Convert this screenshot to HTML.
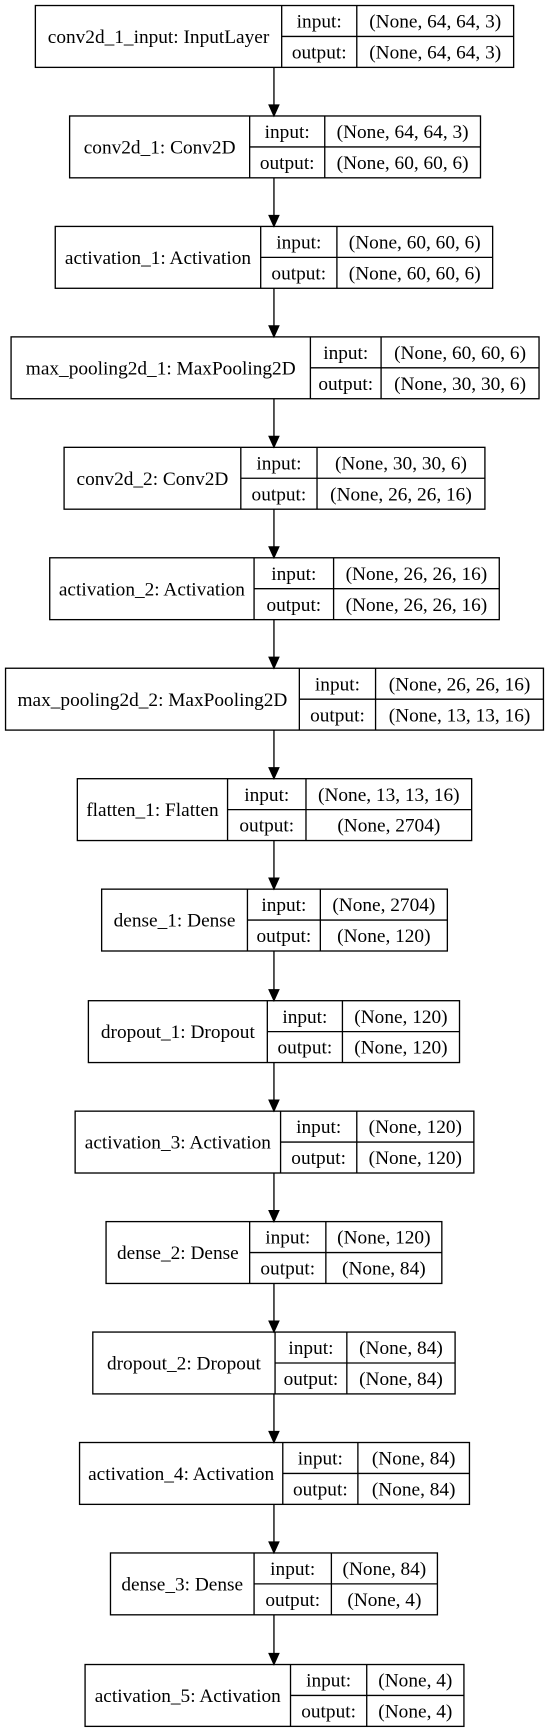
<!DOCTYPE html>
<html><head><meta charset="utf-8"><style>
html,body{margin:0;padding:0;background:#fff;}
svg{display:block;}
text{font-family:"Liberation Serif",serif;font-size:17.5px;fill:#000;text-anchor:middle;}
rect,line{stroke:#000;stroke-width:1.2;fill:none;}
</style></head><body>
<svg width="549" height="1733" viewBox="0 0 497 1569">
<g id="arrows" stroke="#000">
<line x1="248" y1="61" x2="248" y2="95"/><polygon points="243.5,95 252.5,95 248,105"/>
<line x1="248" y1="161" x2="248" y2="195"/><polygon points="243.5,195 252.5,195 248,205"/>
<line x1="248" y1="261" x2="248" y2="295"/><polygon points="243.5,295 252.5,295 248,305"/>
<line x1="248" y1="361" x2="248" y2="395"/><polygon points="243.5,395 252.5,395 248,405"/>
<line x1="248" y1="461" x2="248" y2="495"/><polygon points="243.5,495 252.5,495 248,505"/>
<line x1="248" y1="561" x2="248" y2="595"/><polygon points="243.5,595 252.5,595 248,605"/>
<line x1="248" y1="661" x2="248" y2="695"/><polygon points="243.5,695 252.5,695 248,705"/>
<line x1="248" y1="761" x2="248" y2="795"/><polygon points="243.5,795 252.5,795 248,805"/>
<line x1="248" y1="861" x2="248" y2="896"/><polygon points="243.5,896 252.5,896 248,906"/>
<line x1="248" y1="962" x2="248" y2="996"/><polygon points="243.5,996 252.5,996 248,1006"/>
<line x1="248" y1="1062" x2="248" y2="1096"/><polygon points="243.5,1096 252.5,1096 248,1106"/>
<line x1="248" y1="1162" x2="248" y2="1196"/><polygon points="243.5,1196 252.5,1196 248,1206"/>
<line x1="248" y1="1262" x2="248" y2="1296"/><polygon points="243.5,1296 252.5,1296 248,1306"/>
<line x1="248" y1="1362" x2="248" y2="1396"/><polygon points="243.5,1396 252.5,1396 248,1406"/>
<line x1="248" y1="1462" x2="248" y2="1497"/><polygon points="243.5,1497 252.5,1497 248,1507"/>
</g>

<g transform="translate(0,5)"><rect x="32" y="0" width="433" height="56"/><line x1="255" y1="0" x2="255" y2="56"/><line x1="323" y1="0" x2="323" y2="56"/><line x1="255" y1="28" x2="465" y2="28"/>
<text x="143.5" y="34">conv2d_1_input: InputLayer</text><text x="289" y="20">input:</text><text x="289" y="48">output:</text><text x="394" y="20">(None, 64, 64, 3)</text><text x="394" y="48">(None, 64, 64, 3)</text></g>

<g transform="translate(0,105)"><rect x="63" y="0" width="372" height="56"/><line x1="226" y1="0" x2="226" y2="56"/><line x1="294" y1="0" x2="294" y2="56"/><line x1="226" y1="28" x2="435" y2="28"/>
<text x="144.5" y="34">conv2d_1: Conv2D</text><text x="260" y="20">input:</text><text x="260" y="48">output:</text><text x="364.5" y="20">(None, 64, 64, 3)</text><text x="364.5" y="48">(None, 60, 60, 6)</text></g>

<g transform="translate(0,205)"><rect x="50" y="0" width="396" height="56"/><line x1="236" y1="0" x2="236" y2="56"/><line x1="305" y1="0" x2="305" y2="56"/><line x1="236" y1="28" x2="446" y2="28"/>
<text x="143" y="34">activation_1: Activation</text><text x="270.5" y="20">input:</text><text x="270.5" y="48">output:</text><text x="375.5" y="20">(None, 60, 60, 6)</text><text x="375.5" y="48">(None, 60, 60, 6)</text></g>

<g transform="translate(0,305)"><rect x="10" y="0" width="478" height="56"/><line x1="281" y1="0" x2="281" y2="56"/><line x1="345" y1="0" x2="345" y2="56"/><line x1="281" y1="28" x2="488" y2="28"/>
<text x="145.5" y="34">max_pooling2d_1: MaxPooling2D</text><text x="313" y="20">input:</text><text x="313" y="48">output:</text><text x="416.5" y="20">(None, 60, 60, 6)</text><text x="416.5" y="48">(None, 30, 30, 6)</text></g>

<g transform="translate(0,405)"><rect x="58" y="0" width="381" height="56"/><line x1="218" y1="0" x2="218" y2="56"/><line x1="287" y1="0" x2="287" y2="56"/><line x1="218" y1="28" x2="439" y2="28"/>
<text x="138" y="34">conv2d_2: Conv2D</text><text x="252.5" y="20">input:</text><text x="252.5" y="48">output:</text><text x="363" y="20">(None, 30, 30, 6)</text><text x="363" y="48">(None, 26, 26, 16)</text></g>

<g transform="translate(0,505)"><rect x="45" y="0" width="407" height="56"/><line x1="230" y1="0" x2="230" y2="56"/><line x1="302" y1="0" x2="302" y2="56"/><line x1="230" y1="28" x2="452" y2="28"/>
<text x="137.5" y="34">activation_2: Activation</text><text x="266" y="20">input:</text><text x="266" y="48">output:</text><text x="377" y="20">(None, 26, 26, 16)</text><text x="377" y="48">(None, 26, 26, 16)</text></g>

<g transform="translate(0,605)"><rect x="5" y="0" width="487" height="56"/><line x1="271" y1="0" x2="271" y2="56"/><line x1="340" y1="0" x2="340" y2="56"/><line x1="271" y1="28" x2="492" y2="28"/>
<text x="138" y="34">max_pooling2d_2: MaxPooling2D</text><text x="305.5" y="20">input:</text><text x="305.5" y="48">output:</text><text x="416" y="20">(None, 26, 26, 16)</text><text x="416" y="48">(None, 13, 13, 16)</text></g>

<g transform="translate(0,705)"><rect x="70" y="0" width="357" height="56"/><line x1="206" y1="0" x2="206" y2="56"/><line x1="277" y1="0" x2="277" y2="56"/><line x1="206" y1="28" x2="427" y2="28"/>
<text x="138" y="34">flatten_1: Flatten</text><text x="241.5" y="20">input:</text><text x="241.5" y="48">output:</text><text x="352" y="20">(None, 13, 13, 16)</text><text x="352" y="48">(None, 2704)</text></g>

<g transform="translate(0,805)"><rect x="92" y="0" width="313" height="56"/><line x1="224" y1="0" x2="224" y2="56"/><line x1="290" y1="0" x2="290" y2="56"/><line x1="224" y1="28" x2="405" y2="28"/>
<text x="158" y="34">dense_1: Dense</text><text x="257" y="20">input:</text><text x="257" y="48">output:</text><text x="347.5" y="20">(None, 2704)</text><text x="347.5" y="48">(None, 120)</text></g>

<g transform="translate(0,906)"><rect x="80" y="0" width="336" height="56"/><line x1="242" y1="0" x2="242" y2="56"/><line x1="310" y1="0" x2="310" y2="56"/><line x1="242" y1="28" x2="416" y2="28"/>
<text x="161" y="34">dropout_1: Dropout</text><text x="276" y="20">input:</text><text x="276" y="48">output:</text><text x="363" y="20">(None, 120)</text><text x="363" y="48">(None, 120)</text></g>

<g transform="translate(0,1006)"><rect x="68" y="0" width="361" height="56"/><line x1="254" y1="0" x2="254" y2="56"/><line x1="323" y1="0" x2="323" y2="56"/><line x1="254" y1="28" x2="429" y2="28"/>
<text x="161" y="34">activation_3: Activation</text><text x="288.5" y="20">input:</text><text x="288.5" y="48">output:</text><text x="376" y="20">(None, 120)</text><text x="376" y="48">(None, 120)</text></g>

<g transform="translate(0,1106)"><rect x="96" y="0" width="304" height="56"/><line x1="226" y1="0" x2="226" y2="56"/><line x1="295" y1="0" x2="295" y2="56"/><line x1="226" y1="28" x2="400" y2="28"/>
<text x="161" y="34">dense_2: Dense</text><text x="260.5" y="20">input:</text><text x="260.5" y="48">output:</text><text x="347.5" y="20">(None, 120)</text><text x="347.5" y="48">(None, 84)</text></g>

<g transform="translate(0,1206)"><rect x="84" y="0" width="328" height="56"/><line x1="249" y1="0" x2="249" y2="56"/><line x1="314" y1="0" x2="314" y2="56"/><line x1="249" y1="28" x2="412" y2="28"/>
<text x="166.5" y="34">dropout_2: Dropout</text><text x="281.5" y="20">input:</text><text x="281.5" y="48">output:</text><text x="363" y="20">(None, 84)</text><text x="363" y="48">(None, 84)</text></g>

<g transform="translate(0,1306)"><rect x="72" y="0" width="353" height="56"/><line x1="256" y1="0" x2="256" y2="56"/><line x1="324" y1="0" x2="324" y2="56"/><line x1="256" y1="28" x2="425" y2="28"/>
<text x="164" y="34">activation_4: Activation</text><text x="290" y="20">input:</text><text x="290" y="48">output:</text><text x="374.5" y="20">(None, 84)</text><text x="374.5" y="48">(None, 84)</text></g>

<g transform="translate(0,1406)"><rect x="100" y="0" width="296" height="56"/><line x1="230" y1="0" x2="230" y2="56"/><line x1="300" y1="0" x2="300" y2="56"/><line x1="230" y1="28" x2="396" y2="28"/>
<text x="165" y="34">dense_3: Dense</text><text x="265" y="20">input:</text><text x="265" y="48">output:</text><text x="348" y="20">(None, 84)</text><text x="348" y="48">(None, 4)</text></g>

<g transform="translate(0,1507)"><rect x="77" y="0" width="343" height="56"/><line x1="263" y1="0" x2="263" y2="56"/><line x1="332" y1="0" x2="332" y2="56"/><line x1="263" y1="28" x2="420" y2="28"/>
<text x="170" y="34">activation_5: Activation</text><text x="297.5" y="20">input:</text><text x="297.5" y="48">output:</text><text x="376" y="20">(None, 4)</text><text x="376" y="48">(None, 4)</text></g>
</svg>
</body></html>
